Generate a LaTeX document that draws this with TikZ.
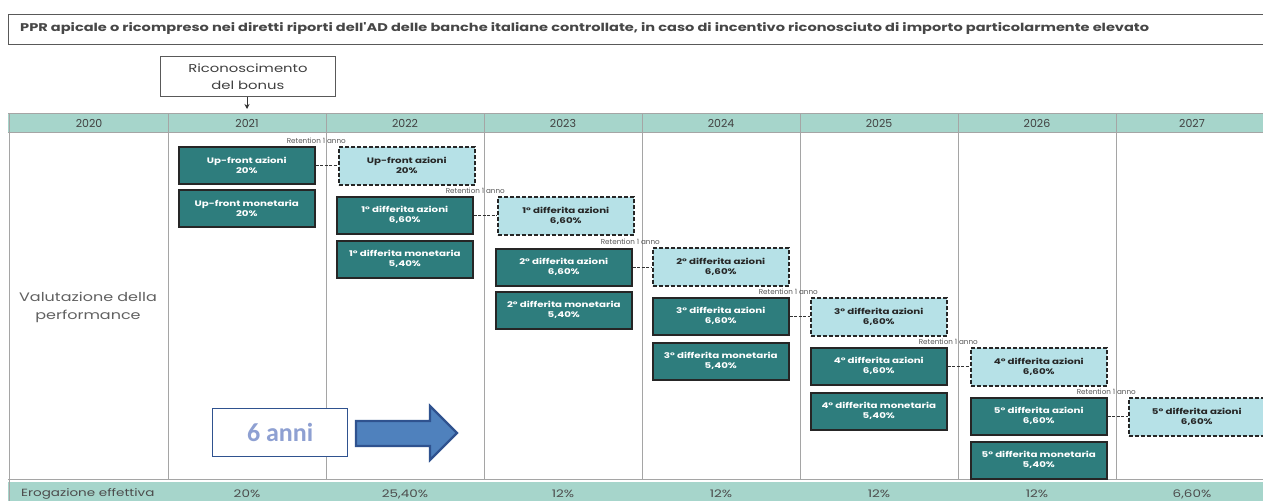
\documentclass[tikz,border=0pt]{standalone}
\usepackage{fontspec}
\setmainfont{Poppins}
\newfontfamily\gf[FakeStretch=1.3]{Poppins}
\newfontfamily\calib{Carlito}
\usetikzlibrary{arrows.meta}
\definecolor{hdr}{RGB}{166,213,203}
\definecolor{darkt}{RGB}{46,125,125}
\definecolor{lite}{RGB}{182,225,231}
\definecolor{gridc}{RGB}{165,165,165}
\definecolor{txtgray}{RGB}{85,85,85}
\definecolor{annib}{RGB}{142,160,210}
\definecolor{arrfill}{RGB}{79,129,189}
\definecolor{arrdraw}{RGB}{47,82,143}
\begin{document}
\begin{tikzpicture}[x=1pt,y={(0pt,-1pt)},
  dk/.style={draw=black!85, line width=1.6pt, fill=darkt, text=white,
    font=\gf\fontsize{7.9}{10}\selectfont\bfseries, align=center,
    minimum width=136pt, minimum height=37pt, inner sep=0pt, anchor=north west},
  dsh/.style={draw=black!85, dash pattern=on 4pt off 2pt, line width=1.6pt, fill=lite,
    text=black!85, font=\gf\fontsize{7.9}{10}\selectfont\bfseries, align=center,
    minimum width=136pt, minimum height=38pt, inner sep=0pt, anchor=north west},
  conn/.style={draw=black!80, dash pattern=on 3pt off 1.5pt, line width=1pt},
  ret/.style={font=\fontsize{7.2}{8}\selectfont, text=txtgray, inner sep=0pt, anchor=base east},
  yr/.style={font=\fontsize{11}{12}\selectfont, text=black!75, inner sep=0pt},
  bt/.style={font=\gf\fontsize{10.4}{12}\selectfont, text=black!70, inner sep=0pt},
  gridl/.style={draw=gridc, line width=0.8pt}]
\useasboundingbox (0,0) rectangle (1263,501);
\fill[white] (0,0) rectangle (1263,501);

% title
\node[draw=gray!70!black, line width=1pt, minimum width=1255pt, minimum height=30pt, anchor=north west,
  inner sep=0pt] (title) at (8,14) {};
\node[anchor=west, font=\gf\fontsize{11.2}{12}\selectfont\bfseries, text=black!72, inner sep=0pt] (titletxt) at (20,29)
  {PPR apicale o ricompreso nei diretti riporti dell'AD delle banche italiane controllate, in caso di incentivo riconosciuto di importo particolarmente elevato};

% header & body
\fill[hdr] (8,113) rectangle (1263,132);
\fill[hdr] (8,482) rectangle (1263,501);
\draw[gridl] (8,113) -- (1263,113);
\draw[gridl] (8,132) -- (1263,132);
\draw[gridl] (8,479) -- (1263,479);
\draw[gridl] (9,113) -- (9,501);
\foreach \x in {168,326,484,642,800,958,1116} {
  \draw[gridl] (\x,113) -- (\x,479);
}
\foreach \x/\t in {89/2020,247/2021,405/2022,563/2023,721/2024,879/2025,1037/2026,1192/2027} {
  \node[yr] (y\t) at (\x,123) {\t};
}
\node[bt, anchor=west] (erog) at (21,494) {Erogazione effettiva};
\foreach \x/\t/\n in {247/20\%/a,405/{25,40\%}/b,563/12\%/c,721/12\%/d,879/12\%/e,1037/12\%/f,1192/{6,60\%}/g} {
  \node[bt] (v\n) at (\x,494) {\t};
}

% riconoscimento
\node[draw=gray!70!black, line width=0.8pt, minimum width=175pt, minimum height=40pt, anchor=north west,
  inner sep=0pt, align=center, font=\gf\fontsize{11.4}{17}\selectfont, text=black!75] (ric) at (160,56)
  {Riconoscimento\\del bonus};
\coordinate (ricend) at (247,109);
\draw[-{Stealth[length=5pt,width=5pt]}, line width=0.8pt, black!80] (ric.south -| ricend) -- (ricend);

% valutazione
\node[align=center, font=\gf\fontsize{12.3}{18}\selectfont, text=black!62, inner sep=0pt] (valut) at (88,307)
  {Valutazione della\\performance};

% boxes
\node[dk] (d1) at (178,146) {Up-front azioni\\20\%};
\node[dk] (m1) at (178,189) {Up-front monetaria\\20\%};
\node[dsh] (s1) at (338,146) {Up-front azioni\\20\%};

\node[dk] (d2) at (336,196) {1° differita azioni\\6,60\%};
\node[dk] (m2) at (336,240) {1° differita monetaria\\5,40\%};
\node[dsh] (s2) at (497,196) {1° differita azioni\\6,60\%};

\node[dk] (d3) at (495,248) {2° differita azioni\\6,60\%};
\node[dk] (m3) at (495,291) {2° differita monetaria\\5,40\%};
\node[dsh] (s3) at (652,247) {2° differita azioni\\6,60\%};

\node[dk] (d4) at (652,297) {3° differita azioni\\6,60\%};
\node[dk] (m4) at (652,342) {3° differita monetaria\\5,40\%};
\node[dsh] (s4) at (810,297) {3° differita azioni\\6,60\%};

\node[dk] (d5) at (810,347) {4° differita azioni\\6,60\%};
\node[dk] (m5) at (810,392) {4° differita monetaria\\5,40\%};
\node[dsh] (s5) at (970,347) {4° differita azioni\\6,60\%};

\node[dk] (d6) at (970,397) {5° differita azioni\\6,60\%};
\node[dk] (m6) at (970,441) {5° differita monetaria\\5,40\%};
\node[dsh] (s6) at (1128,397) {5° differita azioni\\6,60\%};

\foreach \i in {1,...,6} {
  \draw[conn] (d\i.east) -- (s\i.west |- d\i.east);
  \node[ret] (r\i) at ([xshift=8pt,yshift=3pt]s\i.north west) {Retention 1 anno};
}

% 6 anni
\node[draw=arrdraw, line width=1.2pt, fill=white, minimum width=135pt, minimum height=48pt, anchor=north west,
  inner sep=0pt, font=\calib\bfseries\fontsize{26}{28}\selectfont, text=annib] (anni) at (212,408) {6 anni};
\draw[fill=arrfill, draw=arrdraw, line width=2.2pt, line join=miter]
  (356,421) -- (430,421) -- (430,406) -- (457,433) -- (430,460) -- (430,446) -- (356,446) -- cycle;
\end{tikzpicture}
\end{document}
